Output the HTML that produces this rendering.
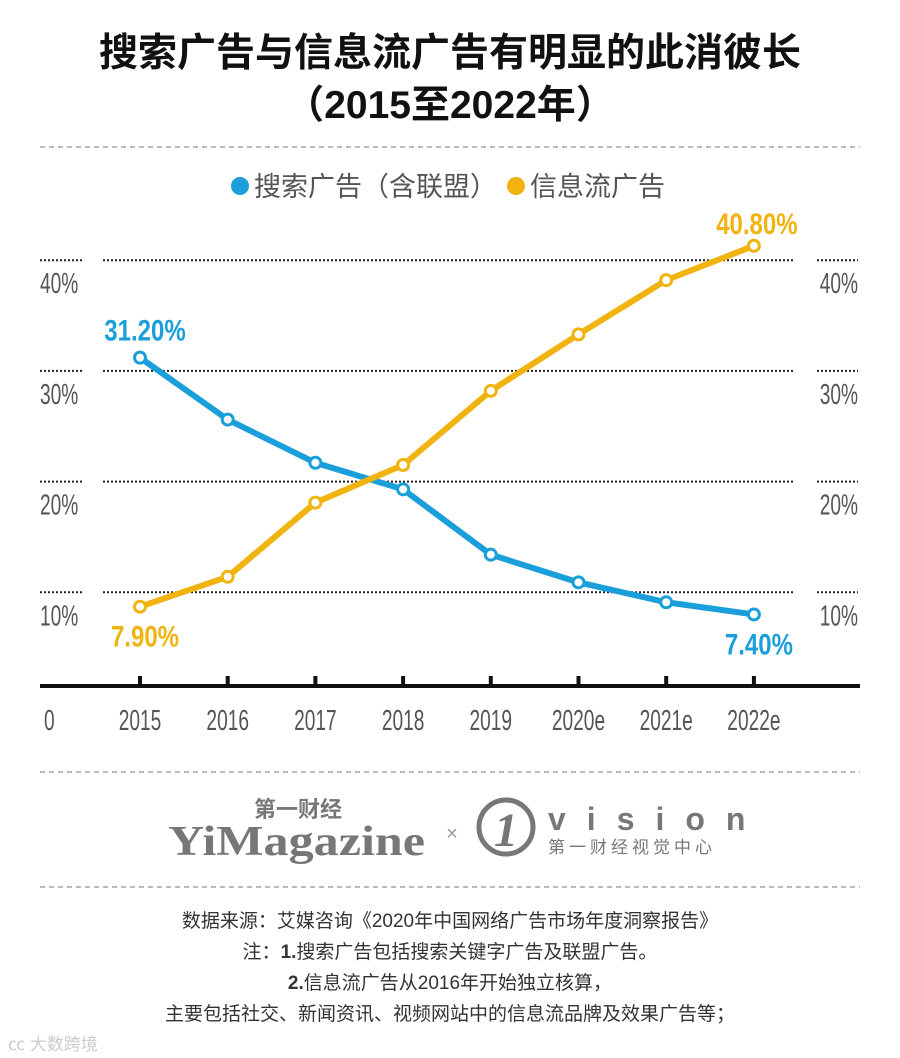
<!DOCTYPE html>
<html><head><meta charset="utf-8">
<style>
body{margin:0;background:#fff;width:900px;height:1058px;overflow:hidden;font-family:"Liberation Sans","Noto Sans CJK SC",sans-serif;}
.t{position:absolute;left:0;width:900px;text-align:center;}
</style></head><body>
<div class="t" style="top:28px;font-size:39px;font-weight:bold;color:#111;line-height:52px;">搜索广告与信息流广告有明显的此消彼长<br>（2015至2022年）</div>
<svg width="900" height="1058" style="position:absolute;left:0;top:0">
<line x1="40" y1="147" x2="860" y2="147" stroke="#777" stroke-dasharray="5,4"/>
<line x1="40" y1="772" x2="860" y2="772" stroke="#777" stroke-dasharray="5,4"/>
<line x1="40" y1="887" x2="860" y2="887" stroke="#777" stroke-dasharray="5,4"/>
<g font-family="Liberation Sans, Noto Sans CJK SC, sans-serif" font-size="27" fill="#555">
<circle cx="240" cy="186" r="9" fill="#1a9fdb"/>
<text x="254" y="196">搜索广告（含联盟）</text>
<circle cx="516" cy="186" r="9" fill="#f0b30f"/>
<text x="530" y="196">信息流广告</text>
</g>
<g id="plot"></g>
<g fill="#777">
<text x="298" y="817" font-size="22" font-weight="bold" text-anchor="middle">第一财经</text>
<text x="168" y="855" font-size="42" font-weight="bold" font-family="Liberation Serif, serif" textLength="257" lengthAdjust="spacingAndGlyphs">YiMagazine</text>
<text x="452" y="840" font-size="20" fill="#999" text-anchor="middle">×</text>
<circle cx="506" cy="827" r="27" fill="none" stroke="#777" stroke-width="5"/>
<text x="506" y="846" font-size="48" font-style="italic" font-weight="bold" text-anchor="middle" font-family="Liberation Serif, serif">1</text>
<text x="548" y="830" font-size="32" font-weight="bold" letter-spacing="21">vision</text>
<text x="548" y="853" font-size="17" letter-spacing="4">第一财经视觉中心</text>
</g>
</svg>
<div class="t" style="top:906px;font-size:19px;color:#333;line-height:31px;">数据来源：艾媒咨询《2020年中国网络广告市场年度洞察报告》<br>注：<b>1.</b>搜索广告包括搜索关键字广告及联盟广告。<br><b>2.</b>信息流广告从2016年开始独立核算，<br>主要包括社交、新闻资讯、视频网站中的信息流品牌及效果广告等；</div>
<div style="position:absolute;left:8px;top:1030px;font-size:17px;color:#ccc;">㏄ 大数跨境</div>
<script>
const years=["2015","2016","2017","2018","2019","2020e","2021e","2022e"];
const searchVals=[31.2,25.6,21.7,19.3,13.4,10.9,9.1,8.0];
const feedVals=[8.7,11.4,18.1,21.5,28.2,33.3,38.2,41.3];
const yTicks=[10,20,30,40];
const yTickLabels=["10%","20%","30%","40%"];
const searchLabels=["31.20%","7.40%"];
const feedLabels=["7.90%","40.80%"];
const NS="http://www.w3.org/2000/svg";
const g=document.getElementById('plot');
const xS=i=>140+i*87.7;
const yS=v=>703-11.07*v;
function mk(t,a,p){const e=document.createElementNS(NS,t);for(const k in a)e.setAttribute(k,a[k]);(p||g).appendChild(e);return e;}
const cond="font-family:'Liberation Sans Narrow','Liberation Sans',sans-serif";
yTicks.forEach((v,i)=>{
 const y=yS(v);
 [[40,83],[103,795],[817,858]].forEach(s=>{
  const l=mk('line',{x1:s[0],x2:s[1],y1:y,y2:y,stroke:'#222','stroke-width':2,'stroke-dasharray':'2,2'});
  
  
 });
 [[40,'start'],[858,'end']].forEach(p=>{
  const t=mk('text',{x:p[0],y:y+33,'font-size':29,fill:'#555','text-anchor':p[1],style:cond+";font-weight:300",transform:`translate(${p[0]},0) scale(0.66,1) translate(${-p[0]},0)`});
  t.textContent=yTickLabels[i];
  
  
 });
});
const ax=mk('line',{x1:40,x2:860,y1:686,y2:686,stroke:'#111','stroke-width':4});


const z=mk('text',{x:44,y:730,'font-size':29,fill:'#555',style:cond,transform:'translate(44,0) scale(0.66,1) translate(-44,0)'});
z.textContent='0';


years.forEach((yr,i)=>{
 const x=xS(i);
 const tk=mk('line',{x1:x,x2:x,y1:676,y2:686,stroke:'#111','stroke-width':4});
 
 
 const t=mk('text',{x:x,y:730,'font-size':29,fill:'#555','text-anchor':'middle',style:cond,transform:`translate(${x},0) scale(0.66,1) translate(${-x},0)`});
 t.textContent=yr;
 
 
});
function series(vals,col,name){
 const p=mk('polyline',{points:vals.map((v,i)=>xS(i)+','+yS(v)).join(' '),fill:'none',stroke:col,'stroke-width':6,'stroke-linejoin':'round'});
 
 
 vals.forEach((v,i)=>{
  const c=mk('circle',{cx:xS(i),cy:yS(v),r:5.5,fill:'#fff',stroke:col,'stroke-width':3});
  
  
 });
}
series(searchVals,'#1a9fdb','search-ads');
series(feedVals,'#f0b30f','feed-ads');
function lab(txt,x,y,col){
 const t=mk('text',{x:x,y:y,'font-size':30,'font-weight':'bold',fill:col,'text-anchor':'middle',style:cond,transform:`translate(${x},0) scale(0.8,1) translate(${-x},0)`});
 t.textContent=txt;
 
 
}
const n=years.length-1;
lab(searchLabels[0],xS(0)+5,yS(searchVals[0])-17,'#1a9fdb');
lab(searchLabels[1],xS(n)+5,yS(searchVals[n])+40,'#1a9fdb');
lab(feedLabels[0],xS(0)+5,yS(feedVals[0])+40,'#f0b30f');
lab(feedLabels[1],xS(n)+3,yS(feedVals[n])-12,'#f0b30f');
</script>
</body></html>
